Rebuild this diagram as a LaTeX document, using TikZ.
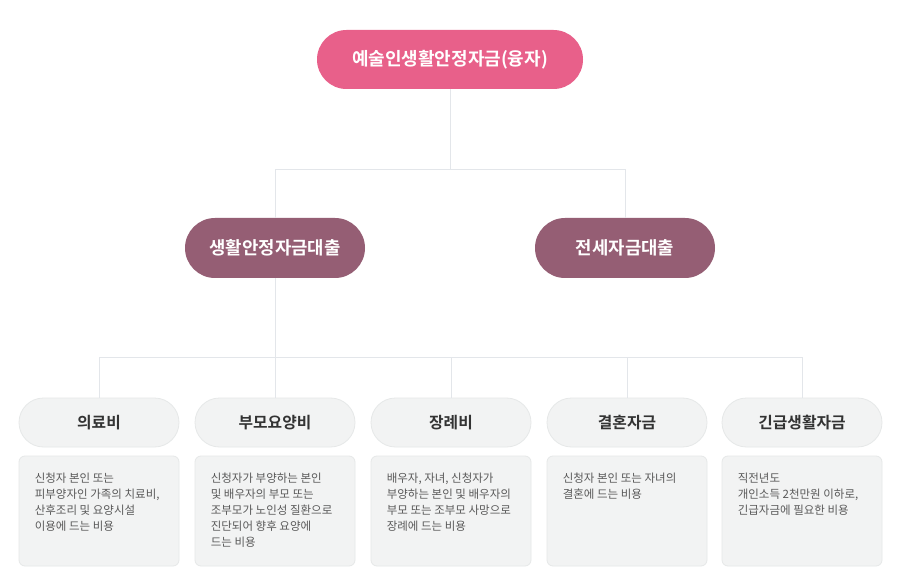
\documentclass[tikz,border=0pt]{standalone}
\usepackage{fontspec}
\setmainfont{Noto Sans CJK KR}[BoldFont={Noto Sans CJK KR Bold}]
\definecolor{pinkc}{HTML}{E8608A}
\definecolor{plum}{HTML}{955E74}
\definecolor{pale}{HTML}{F2F3F3}
\definecolor{paleb}{HTML}{E6E8E8}
\definecolor{linec}{HTML}{E3E6EA}
\definecolor{darkt}{HTML}{333333}
\definecolor{bodyt}{HTML}{595959}
\begin{document}
\begin{tikzpicture}[x=1pt,y=-1pt,
  toppill/.style={draw=none,fill=pinkc,rounded corners=29.5pt,minimum width=266pt,minimum height=59pt,inner sep=0pt,text=white,font=\bfseries\fontsize{18}{21}\selectfont},
  midpill/.style={draw=none,fill=plum,rounded corners=30pt,minimum width=180pt,minimum height=60pt,inner sep=0pt,text=white,font=\bfseries\fontsize{17.8}{21}\selectfont},
  lowpill/.style={draw=paleb,line width=0.8pt,fill=pale,rounded corners=24.5pt,minimum width=160pt,minimum height=49pt,inner sep=0pt,text=darkt,font=\bfseries\fontsize{15.8}{19}\selectfont},
  descbox/.style={draw=paleb,line width=0.8pt,fill=pale,rounded corners=6pt,minimum width=160pt,minimum height=110pt,inner sep=0pt},
  desctext/.style={anchor=north west,inner sep=0pt,align=left,text=bodyt,font=\fontsize{11.5}{16}\selectfont},
  conn/.style={draw=linec,line width=0.8pt}]
\useasboundingbox (0,0) rectangle (900,580);
\fill[white] (0,0) rectangle (900,580);

\node[toppill] (top) at (450,59.5) {예술인생활안정자금(융자)};
\node[midpill] (m1) at (275,248) {생활안정자금대출};
\node[midpill] (m2) at (625,248) {전세자금대출};

\node[lowpill] (b1) at (99,422.5) {의료비};
\node[lowpill] (b2) at (275,422.5) {부모요양비};
\node[lowpill] (b3) at (451,422.5) {장례비};
\node[lowpill] (b4) at (627,422.5) {결혼자금};
\node[lowpill] (b5) at (802,422.5) {긴급생활자금};

\node[descbox] (d1) at (99,511) {};
\node[descbox] (d2) at (275,511) {};
\node[descbox] (d3) at (451,511) {};
\node[descbox] (d4) at (627,511) {};
\node[descbox] (d5) at (802,511) {};

\node[desctext] (t1) at ([xshift=16pt,yshift=-17pt]d1.north west) {신청자 본인 또는\\피부양자인 가족의 치료비,\\산후조리 및 요양시설\\이용에 드는 비용};
\node[desctext] (t2) at ([xshift=16pt,yshift=-17pt]d2.north west) {신청자가 부양하는 본인\\및 배우자의 부모 또는\\조부모가 노인성 질환으로\\진단되어 향후 요양에\\드는 비용};
\node[desctext] (t3) at ([xshift=16pt,yshift=-17pt]d3.north west) {배우자, 자녀, 신청자가\\부양하는 본인 및 배우자의\\부모 또는 조부모 사망으로\\장례에 드는 비용};
\node[desctext] (t4) at ([xshift=16pt,yshift=-17pt]d4.north west) {신청자 본인 또는 자녀의\\결혼에 드는 비용};
\node[desctext] (t5) at ([xshift=16pt,yshift=-17pt]d5.north west) {직전년도\\개인소득 2천만원 이하로,\\긴급자금에 필요한 비용};

\coordinate (j1) at (450,169);
\coordinate (j2) at (275,357);
\draw[conn] (top.south) -- (j1);
\draw[conn] (m1.north) |- (j1);
\draw[conn] (m2.north) |- (j1);
\draw[conn] (m1.south) -- (j2);
\draw[conn] (b1.north) |- (b5.north |- j2) -- (b5.north);
\draw[conn] (b2.north) -- (b2.north |- j2);
\draw[conn] (b3.north) -- (b3.north |- j2);
\draw[conn] (b4.north) -- (b4.north |- j2);
\end{tikzpicture}
\end{document}
